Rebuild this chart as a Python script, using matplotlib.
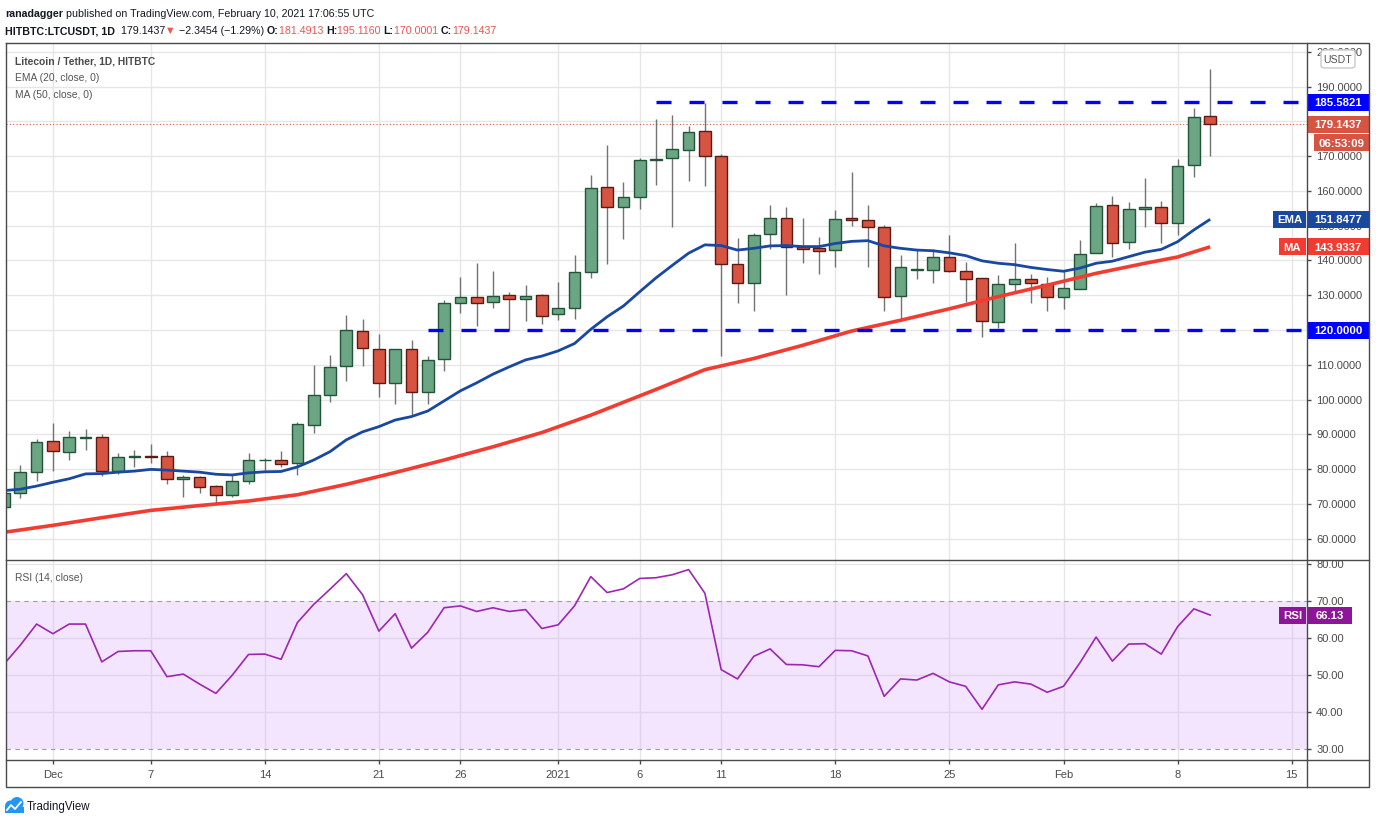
"""Litecoin / Tether daily chart with EMA 20, MA 50 and RSI 14, TradingView style."""

import matplotlib

matplotlib.use("Agg")

import matplotlib.pyplot as plt
import pandas as pd
from matplotlib import font_manager, transforms
from matplotlib.font_manager import FontProperties
from matplotlib.lines import Line2D
from matplotlib.patches import Ellipse, FancyBboxPatch, Rectangle

# ---------------------------------------------------------------- data
START_DAY = "2020-11-28"

opens = [69.1, 73.0, 79.1, 88.0, 85.0, 89.0, 89.1, 79.5, 83.4, 83.8,
         83.7, 77.0, 77.6, 75.0, 72.4, 76.7, 82.5, 82.5, 81.6, 92.8,
         101.2, 109.6, 119.6, 114.4, 104.7, 114.4, 102.3, 111.6, 127.7, 129.4,
         128.0, 130.0, 128.8, 130.0, 124.5, 126.2, 136.8, 161.1, 155.3, 158.4,
         168.8, 169.4, 171.7, 177.2, 170.0, 138.9, 133.4, 147.5, 152.1, 143.8,
         143.5, 143.0, 152.1, 151.6, 149.6, 129.7, 137.4, 137.2, 140.9, 136.9,
         134.9, 122.2, 133.2, 134.6, 133.1, 129.4, 131.7, 142.1, 155.9, 145.4,
         154.7, 155.3, 150.7, 167.4, 181.4913]
highs = [73.6, 81.2, 88.6, 93.3, 90.9, 91.5, 90.1, 84.7, 85.5, 87.2,
         85.2, 78.3, 78.0, 75.4, 78.3, 84.7, 83.1, 85.2, 93.4, 109.9,
         112.8, 124.3, 123.2, 118.8, 114.6, 117.1, 112.5, 128.6, 135.3, 139.4,
         137.0, 131.0, 132.9, 130.4, 133.7, 141.6, 164.6, 173.2, 162.6, 169.4,
         180.7, 181.9, 178.6, 185.2, 170.5, 146.5, 147.8, 156.0, 155.4, 152.2,
         146.8, 154.5, 165.6, 156.0, 150.1, 141.5, 143.2, 143.2, 147.2, 139.6,
         135.1, 135.7, 145.0, 136.0, 135.2, 136.9, 145.9, 156.4, 158.5, 156.8,
         163.7, 157.1, 169.2, 184.0, 195.1160]
lows = [68.8, 71.8, 76.6, 79.5, 82.6, 85.5, 78.1, 78.6, 80.7, 81.8,
        75.7, 72.0, 73.2, 69.7, 72.0, 75.8, 79.3, 80.7, 78.4, 90.5,
        99.3, 105.4, 109.7, 100.6, 98.6, 95.3, 98.6, 108.3, 125.0, 121.2,
        126.4, 120.0, 122.7, 121.8, 122.9, 123.1, 135.1, 138.9, 146.3, 154.7,
        161.8, 149.5, 162.9, 161.5, 112.6, 127.9, 125.6, 143.4, 130.2, 139.4,
        136.2, 138.2, 150.0, 138.2, 125.6, 122.5, 134.8, 133.6, 136.6, 128.1,
        118.1, 120.7, 131.3, 127.9, 125.6, 125.9, 131.7, 142.1, 141.1, 143.4,
        149.7, 145.1, 147.4, 163.9, 170.0001]
closes = [73.1, 79.1, 87.7, 85.3, 89.1, 89.2, 79.5, 83.4, 83.7, 83.6,
          77.0, 77.6, 74.8, 72.4, 76.7, 82.5, 82.7, 81.4, 93.1, 101.2,
          109.3, 119.9, 114.7, 104.7, 114.4, 102.3, 111.3, 127.7, 129.4, 127.7,
          129.7, 128.8, 129.7, 124.1, 126.2, 136.8, 160.8, 155.3, 158.4, 168.9,
          169.2, 172.0, 176.9, 170.0, 138.9, 133.4, 147.2, 152.1, 143.8, 143.4,
          142.6, 151.8, 151.6, 149.6, 129.4, 138.0, 137.6, 140.9, 137.0, 134.6,
          122.5, 133.1, 134.6, 133.5, 129.4, 132.0, 141.8, 155.6, 144.9, 154.7,
          155.3, 150.7, 167.1, 181.2, 179.1437]

ema20 = [73.8, 74.2, 75.1, 76.2, 77.2, 78.6, 78.7, 79.1, 79.4, 79.9,
         79.7, 79.4, 79.1, 78.5, 78.3, 78.9, 79.2, 79.3, 80.6, 82.6,
         85.0, 88.4, 90.7, 92.2, 94.1, 95.1, 96.7, 99.6, 102.5, 104.8,
         107.3, 109.4, 111.4, 112.5, 114.0, 116.1, 120.2, 123.8, 126.9, 131.0,
         135.0, 138.6, 142.1, 144.5, 144.3, 143.0, 143.5, 144.2, 144.3, 144.0,
         144.0, 144.9, 145.5, 145.7, 144.2, 143.5, 143.0, 142.8, 142.2, 141.4,
         139.9, 139.2, 138.8, 138.0, 137.4, 136.9, 137.8, 139.2, 139.8, 141.1,
         142.4, 143.2, 145.4, 148.8, 151.8477]

ma50_days = [0, 3, 6, 9, 12, 15, 18, 21, 24, 27, 30, 33, 36,
             40, 43, 46, 49, 52, 55, 58, 61, 64, 67, 70, 72, 74]
ma50 = [61.8, 63.8, 66.0, 68.1, 69.5, 70.8, 72.6, 75.6, 79.0, 82.6, 86.4, 90.5, 95.5,
        102.9, 108.6, 111.8, 115.6, 119.7, 122.8, 126.1, 129.6, 132.9, 136.3, 139.2, 141.0,
        143.9337]

rsi14 = [52.9, 58.0, 63.7, 61.1, 63.7, 63.7, 53.5, 56.3, 56.5, 56.5,
         49.5, 50.2, 47.5, 45.0, 49.9, 55.5, 55.6, 54.2, 64.1, 69.0,
         73.1, 77.3, 71.6, 61.8, 66.5, 57.2, 61.5, 68.1, 68.6, 67.1,
         68.1, 67.1, 67.6, 62.5, 63.5, 68.6, 76.5, 72.2, 73.2, 76.0,
         76.2, 77.0, 78.4, 72.0, 51.4, 48.9, 55.0, 57.0, 52.8, 52.7,
         52.2, 56.6, 56.5, 55.1, 44.2, 48.9, 48.6, 50.4, 48.1, 46.9,
         40.7, 47.3, 48.1, 47.5, 45.3, 46.9, 53.2, 60.2, 53.7, 58.3,
         58.4, 55.6, 63.0, 67.8, 66.13]

last_change = -2.3454
last_change_pct = -1.29

resistance = 185.5821
support = 120.0
resistance_from = "2021-01-07"
support_from = "2020-12-24"

tick_dates = ["2020-12-01", "2020-12-07", "2020-12-14", "2020-12-21", "2020-12-26",
              "2021-01-01", "2021-01-06", "2021-01-11", "2021-01-18", "2021-01-25",
              "2021-02-01", "2021-02-08", "2021-02-15"]
tick_labels = ["Dec", "7", "14", "21", "26", "2021", "6", "11", "18", "25", "Feb", "8", "15"]
price_ticks = [60, 70, 80, 90, 100, 110, 120, 130, 140, 150, 160, 170, 180, 190, 200]
hidden_price_labels = [180]  # sits fully under the last-price tag
rsi_ticks = [30, 40, 50, 60, 70, 80]

# ---------------------------------------------------------------- layout (pixels)
W, H = 1376, 824
LEFT, SCALE_X, RIGHT = 6, 1307, 1369
TOP, SPLIT, RSI_BOTTOM, AXIS_BOTTOM = 43, 560, 760, 787
DAY_PX, DAY0_PX = 16.3, 4.0
PRICE_LIM = (53.83, 202.57)
RSI_LIM = (27.03, 80.98)

UP, UP_EDGE = "#6ba583", "#225437"
DOWN, DOWN_EDGE = "#d75442", "#5b1a13"
WICK = "#737375"
EMA_COLOR, MA_COLOR = "#1848a0", "#f23b31"
LEVEL_COLOR = "#0000ff"
RSI_COLOR, RSI_TAG = "#9c27b0", "#8e1599"
GRID = "#e6e6e6"
TEXT = "#131722"
SCALE_TEXT = "#4a4a4a"


def pick_font(names: list[str]) -> str | None:
    for name in names:
        try:
            font_manager.findfont(FontProperties(family=name), fallback_to_default=False)
            return name
        except ValueError:
            continue
    return None


BASE = pick_font(["Liberation Sans", "Arial"]) or "DejaVu Sans"
NARROW = pick_font(["Liberation Sans Narrow", "Arial Narrow"])
plt.rcParams["font.family"] = [BASE, "DejaVu Sans"]
HEAD_FAMILY = [NARROW or BASE, "DejaVu Sans"]
HEAD_SIZE = 7.9 if NARROW else 7.1


def fx(px: float) -> float:
    return px / W


def fy(py: float) -> float:
    return 1 - py / H


def frame_line(fig, xs, ys, color="#4a4a4a", lw=1.0):
    fig.add_artist(Line2D([fx(v) for v in xs], [fy(v) for v in ys],
                          transform=fig.transFigure, color=color, lw=lw, zorder=20))


def scale_tag(fig, axis, value, x0, x1, text, color, dy_px=0.0, h_px=17):
    """Coloured label box on the right price scale, centred on ``value``."""
    trans = transforms.blended_transform_factory(fig.transFigure, axis.transData)
    if dy_px:
        trans = trans + transforms.ScaledTranslation(0, -dy_px / fig.dpi, fig.dpi_scale_trans)
    low, high = axis.get_ylim()
    per_px = (high - low) / (axis.get_position().height * H)
    axis.add_patch(Rectangle((fx(x0), value - h_px / 2 * per_px), fx(x1) - fx(x0), h_px * per_px,
                             transform=trans, facecolor=color, edgecolor="none",
                             clip_on=False, zorder=10))
    axis.text(fx((x0 + x1) / 2), value, text, transform=trans, color="white", fontsize=8.2,
              fontweight="bold", ha="center", va="center_baseline", clip_on=False, zorder=11)


def chained_text(fig, x_px, baseline_px, parts):
    renderer = fig.canvas.get_renderer()
    x = fx(x_px)
    for text, color, weight in parts:
        artist = fig.text(x, fy(baseline_px), text, color=color, fontweight=weight,
                          fontsize=HEAD_SIZE + 0.6, family=HEAD_FAMILY, va="baseline")
        x = fx(artist.get_window_extent(renderer).x1)


# ---------------------------------------------------------------- figure
fig = plt.figure(figsize=(W / 100, H / 100), dpi=100, facecolor="white")
width = fx(SCALE_X) - fx(LEFT)
ax = fig.add_axes([fx(LEFT), fy(SPLIT), width, fy(TOP) - fy(SPLIT)])
rax = fig.add_axes([fx(LEFT), fy(RSI_BOTTOM), width, fy(SPLIT) - fy(RSI_BOTTOM)])

start = pd.Timestamp(START_DAY)
days = list(range(len(closes)))
tick_pos = [(pd.Timestamp(d) - start).days for d in tick_dates]
xlim = ((LEFT - DAY0_PX) / DAY_PX, (SCALE_X - DAY0_PX) / DAY_PX)

for axis in (ax, rax):
    axis.set_xlim(*xlim)
    for spine in axis.spines.values():
        spine.set_visible(False)
    axis.set_facecolor("white")
    for pos in tick_pos:
        axis.axvline(pos, color=GRID, lw=1, zorder=0)

# price panel
ax.set_ylim(*PRICE_LIM)
for level in price_ticks:
    ax.axhline(level, color=GRID, lw=1, zorder=0)
ax.yaxis.tick_right()
ax.set_yticks(price_ticks,
              ["" if v in hidden_price_labels else f"{v:.4f}" for v in price_ticks])
ax.tick_params(axis="y", length=3, width=1, color=SCALE_TEXT, labelcolor=SCALE_TEXT,
               labelsize=8.0, pad=3.6)
ax.set_xticks([])

for i, o, hi, lo, c in zip(days, opens, highs, lows, closes):
    rising = c >= o
    ax.vlines(i, lo, hi, color=WICK, lw=1, zorder=3)
    ax.add_patch(Rectangle((i - 0.36, min(o, c)), 0.72, max(abs(c - o), 0.05),
                           facecolor=UP if rising else DOWN,
                           edgecolor=UP_EDGE if rising else DOWN_EDGE, lw=1, zorder=4))

ax.plot(days, ema20, color=EMA_COLOR, lw=2.0, zorder=5, solid_capstyle="butt")
ax.plot(ma50_days, ma50, color=MA_COLOR, lw=2.6, zorder=5, solid_capstyle="butt")

res_start = (pd.Timestamp(resistance_from) - start).days
sup_start = (pd.Timestamp(support_from) - start).days
for level, x0 in ((resistance, res_start), (support, sup_start)):
    ax.plot([x0, xlim[1]], [level, level], color=LEVEL_COLOR, lw=2.4,
            dashes=(4.5, 5.4), zorder=6, solid_capstyle="butt", dash_capstyle="butt")
ax.axhline(closes[-1], color=DOWN, lw=0.8, ls=(0, (1, 2)), zorder=2)

# right scale tags
scale_tag(fig, ax, resistance, SCALE_X, RIGHT, f"{resistance:.4f}", LEVEL_COLOR)
scale_tag(fig, ax, closes[-1], SCALE_X, RIGHT, f"{closes[-1]:.4f}", DOWN)
scale_tag(fig, ax, closes[-1], 1314, RIGHT, "06:53:09", DOWN, dy_px=18.5)
scale_tag(fig, ax, ema20[-1], SCALE_X, RIGHT, f"{ema20[-1]:.4f}", EMA_COLOR)
scale_tag(fig, ax, ema20[-1], 1273, SCALE_X - 1, "EMA", EMA_COLOR)
scale_tag(fig, ax, ma50[-1], SCALE_X, RIGHT, f"{ma50[-1]:.4f}", MA_COLOR)
scale_tag(fig, ax, ma50[-1], 1279, SCALE_X - 1, "MA", MA_COLOR)
scale_tag(fig, ax, support, SCALE_X, RIGHT, f"{support:.4f}", LEVEL_COLOR)

fig.add_artist(FancyBboxPatch((fx(1321), fy(68)), fx(34), 18 / H,
                              boxstyle="round,pad=0,rounding_size=0.003",
                              transform=fig.transFigure, facecolor="white",
                              edgecolor="#c9c9c9", lw=1, zorder=15))
fig.text(fx(1338), fy(59), "USDT", color="#555555", fontsize=7.6, ha="center",
         va="center_baseline", zorder=16)

# rsi panel
rax.set_ylim(*RSI_LIM)
rax.axhspan(30, 70, color="#f3e5fd", zorder=0, lw=0)
band = ((30 - RSI_LIM[0]) / (RSI_LIM[1] - RSI_LIM[0]), (70 - RSI_LIM[0]) / (RSI_LIM[1] - RSI_LIM[0]))
for pos in tick_pos:
    rax.axvline(pos, color="#e0d3ea", lw=1, zorder=0.5, ymin=band[0], ymax=band[1])
for level in (40, 50, 60):
    rax.axhline(level, color="#e0d3ea", lw=1, zorder=0.6)
rax.axhline(80, color=GRID, lw=1, zorder=0.6)
for level in (30, 70):
    rax.axhline(level, color="#9e9e9e", lw=0.8, ls=(0, (4, 4)), zorder=1)
rax.plot(days, rsi14, color=RSI_COLOR, lw=1.2, zorder=5)
rax.yaxis.tick_right()
rax.set_yticks(rsi_ticks, [f"{v:.2f}" for v in rsi_ticks])
rax.tick_params(axis="y", length=3, width=1, color=SCALE_TEXT, labelcolor=SCALE_TEXT,
                labelsize=8.0, pad=3.6)
rax.set_xticks(tick_pos, tick_labels)
rax.tick_params(axis="x", length=3, width=1, color=SCALE_TEXT, labelcolor=SCALE_TEXT,
                labelsize=8.0, pad=4)
scale_tag(fig, rax, rsi14[-1], SCALE_X, 1352, f"{rsi14[-1]:.2f}", RSI_TAG)
scale_tag(fig, rax, rsi14[-1], 1279, SCALE_X - 1, "RSI", RSI_TAG)

# frame
frame_line(fig, [LEFT, RIGHT, RIGHT, LEFT, LEFT], [TOP, TOP, AXIS_BOTTOM, AXIS_BOTTOM, TOP])
frame_line(fig, [SCALE_X, SCALE_X], [TOP, AXIS_BOTTOM])
frame_line(fig, [LEFT, RIGHT], [SPLIT, SPLIT])
frame_line(fig, [LEFT, RIGHT], [RSI_BOTTOM, RSI_BOTTOM])

# legends inside panels
fig.text(fx(15), fy(60), "Litecoin / Tether, 1D, HITBTC", color="#4a4a4a", fontsize=HEAD_SIZE + 0.3,
         family=HEAD_FAMILY, fontweight="bold", va="center_baseline")
fig.text(fx(15), fy(77), "EMA (20, close, 0)", color="#555555", fontsize=HEAD_SIZE + 0.3,
         family=HEAD_FAMILY, va="center_baseline")
fig.text(fx(15), fy(94), "MA (50, close, 0)", color="#555555", fontsize=HEAD_SIZE + 0.3,
         family=HEAD_FAMILY, va="center_baseline")
fig.text(fx(15), fy(577), "RSI (14, close)", color="#555555", fontsize=HEAD_SIZE + 0.3,
         family=HEAD_FAMILY, va="center_baseline")

# header
RED_TEXT = "#ef5350"
chained_text(fig, 5, 17, [("ranadagger", TEXT, "bold"),
                          (" published on TradingView.com, February 10, 2021 17:06:55 UTC", TEXT, "normal")])
chained_text(fig, 5, 34, [
    ("HITBTC:LTCUSDT, 1D", TEXT, "bold"),
    (f"  {closes[-1]:.4f}", TEXT, "normal"),
    ("▼", RED_TEXT, "normal"),
    (f" \u2212{abs(last_change):.4f} (\u2212{abs(last_change_pct):.2f}%) ", TEXT, "normal"),
    ("O:", TEXT, "bold"), (f"{opens[-1]:.4f} ", RED_TEXT, "normal"),
    ("H:", TEXT, "bold"), (f"{highs[-1]:.4f} ", RED_TEXT, "normal"),
    ("L:", TEXT, "bold"), (f"{lows[-1]:.4f} ", RED_TEXT, "normal"),
    ("C:", TEXT, "bold"), (f"{closes[-1]:.4f}", RED_TEXT, "normal"),
])

# TradingView logo
logo_blue = "#2196f3"
fig.add_artist(Ellipse((fx(10.5), fy(806)), 11 / W, 11 / H, transform=fig.transFigure,
                       facecolor=logo_blue, edgecolor="none"))
fig.add_artist(Ellipse((fx(17), fy(803.5)), 13 / W, 13 / H, transform=fig.transFigure,
                       facecolor=logo_blue, edgecolor="none"))
fig.add_artist(Rectangle((fx(5), fy(812.5)), 19 / W, 6 / H, transform=fig.transFigure,
                         facecolor=logo_blue, edgecolor="none"))
fig.add_artist(Line2D([fx(7), fx(11), fx(15), fx(21)], [fy(810), fy(805), fy(809), fy(802)],
                      transform=fig.transFigure, color="white", lw=1.3))
fig.text(fx(27), fy(805.5), "TradingView", color=TEXT, fontsize=HEAD_SIZE + 1.2,
         family=HEAD_FAMILY, va="center_baseline")

fig.savefig("out.png", dpi=100, facecolor="white")
